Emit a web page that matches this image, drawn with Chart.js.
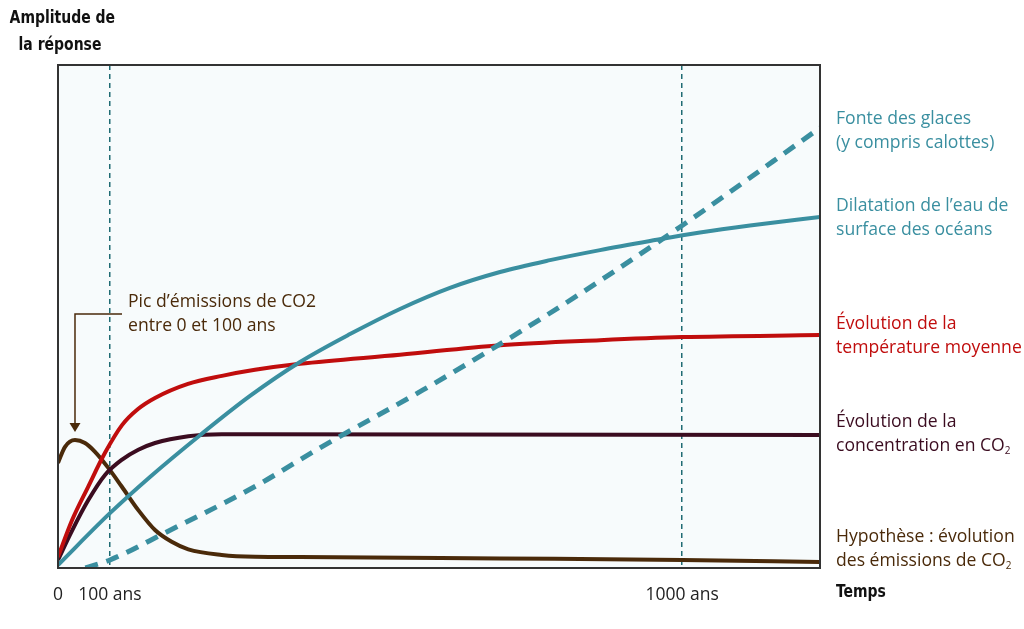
<!DOCTYPE html>
<html lang="fr">
<head>
<meta charset="utf-8">
<title>Amplitude de la réponse</title>
<script src="https://cdn.jsdelivr.net/npm/chart.js@4/dist/chart.umd.min.js"></script>
<style>
  html, body { margin: 0; padding: 0; background: #fff; }
  #wrap { position: relative; width: 1024px; height: 629px; overflow: hidden; }
  #chart { position: absolute; left: 0; top: 0; }
  .lbl { position: absolute; font-family: "Open Sans", "Noto Sans", sans-serif; font-size: 17.6px; line-height: 23.5px; white-space: nowrap; }
  .lbl sub { font-size: 10px; vertical-align: -3px; line-height: 0; }
  .bold { position: absolute; font-family: "DejaVu Sans", sans-serif; font-stretch: condensed; font-weight: bold; font-size: 18.5px; line-height: 27px; color: #111; white-space: nowrap; transform: scaleX(0.84); }
</style>
</head>
<body>
<div id="wrap">
  <canvas id="chart" width="1024" height="629"></canvas>
  <div class="bold" style="left:0; width:120px; top:3px; text-align:center; transform-origin:60px 0;">Amplitude de<br>la réponse</div>
  <div class="bold" style="left:836px; top:577px; transform-origin:0 0;">Temps</div>
  <div class="lbl" style="left:836px; top:106px; color:#3a8fa0;">Fonte des glaces<br>(y compris calottes)</div>
  <div class="lbl" style="left:836px; top:193px; color:#3a8fa0;">Dilatation de l’eau de<br>surface des océans</div>
  <div class="lbl" style="left:836px; top:311px; color:#c00d0d;">Évolution de la<br>température moyenne</div>
  <div class="lbl" style="left:836px; top:409px; color:#3b0c20;">Évolution de la<br>concentration en CO<sub>2</sub></div>
  <div class="lbl" style="left:836px; top:524px; color:#4a2a0a;">Hypothèse : évolution<br>des émissions de CO<sub>2</sub></div>
  <div class="lbl" style="left:128px; top:289px; color:#4a2a0a;">Pic d’émissions de CO2<br>entre 0 et 100 ans</div>
</div>
<script>
// Time axis is schematic (not proportional): 0..100 = width of the plot
const tickValues = [0, 6.8, 81.9];
const tickLabels = ["0", "100 ans", "1000 ans"];

// Hypothèse : émissions de CO2
const emisX = [0, 0.92, 2.23, 3.54, 4.86, 6.60, 8.36, 10.54, 12.73, 14.92, 17.10, 21.48, 25.85, 31.76, 58.0, 81.89, 100];
const emisY = [20.9, 24.1, 25.45, 24.85, 23.1, 19.9, 16.2, 11.5, 7.55, 5.2, 3.7, 2.6, 2.25, 2.2, 1.9, 1.6, 1.2];

// Concentration en CO2
const co2X = [0, 1.80, 3.98, 6.17, 8.36, 10.54, 12.73, 17.10, 21.48, 25.85, 100];
const co2Y = [1.6, 7.3, 13.5, 18.5, 21.5, 23.5, 24.85, 26.2, 26.6, 26.6, 26.45];

// Température moyenne
const tempX = [0, 1.84, 3.94, 6.17, 8.40, 10.50, 12.73, 17.06, 21.52, 25.85, 31.76, 44.88, 58.01, 71.13, 81.89, 100];
const tempY = [2.2, 9.5, 16.1, 22.9, 28.4, 31.6, 33.8, 36.6, 38.2, 39.4, 40.6, 42.4, 44.3, 45.3, 45.9, 46.3];

// Dilatation de l'eau de surface des océans
const dilX = [0, 6.82, 12.07, 18.64, 25.20, 31.76, 38.32, 44.88, 51.44, 58.01, 64.57, 71.13, 77.69, 84.25, 90.81, 100];
const dilY = [0.6, 10.9, 18.1, 26.4, 34.2, 40.95, 46.5, 51.5, 55.7, 58.85, 61.2, 63.2, 65.0, 66.7, 68.1, 69.8];

// Fonte des glaces (y compris calottes)
const iceX = [3.6, 6.82, 14.04, 25.85, 34.38, 47.90, 56.69, 64.17, 71.13, 81.63, 100];
const iceY = [0, 1.6, 7.0, 16.2, 23.9, 35.4, 43.3, 50.3, 57.1, 67.8, 87.5];

const toPoints = (xs, ys) => xs.map((x, i) => ({x, y: ys[i]}));

const line = (label, xs, ys, color, extra = {}) => ({
  label, data: toPoints(xs, ys), borderColor: color, borderWidth: 4,
  pointRadius: 0, fill: false, cubicInterpolationMode: "monotone", ...extra,
});

// Plot background, frame and the "Pic d'émissions" leader arrow
const framePlugin = {
  id: "frame",
  beforeDraw(chart) {
    const {ctx, chartArea: a} = chart;
    ctx.save();
    ctx.fillStyle = "#f7fbfc";
    ctx.fillRect(a.left, a.top, a.right - a.left, a.bottom - a.top);
    ctx.restore();
  },
  afterDatasetsDraw(chart) {
    const {ctx, chartArea: a, scales} = chart;
    ctx.save();
    ctx.strokeStyle = "#333";
    ctx.lineWidth = 2;
    ctx.strokeRect(a.left, a.top, a.right - a.left, a.bottom - a.top);

    const peak = emisY.indexOf(Math.max(...emisY));
    const px = scales.x.getPixelForValue(emisX[peak]);
    const tip = scales.y.getPixelForValue(emisY[peak]) - 8;
    const leaderY = 314;
    ctx.strokeStyle = "#4a2a0a";
    ctx.fillStyle = "#4a2a0a";
    ctx.lineWidth = 1.5;
    ctx.beginPath();
    ctx.moveTo(122, leaderY);
    ctx.lineTo(px, leaderY);
    ctx.lineTo(px, tip - 8);
    ctx.stroke();
    ctx.beginPath();
    ctx.moveTo(px - 5.5, tip - 9);
    ctx.lineTo(px + 5.5, tip - 9);
    ctx.lineTo(px, tip);
    ctx.closePath();
    ctx.fill();
    ctx.restore();
  },
};

new Chart(document.getElementById("chart"), {
  type: "line",
  data: {
    datasets: [
      line("Fonte des glaces", iceX, iceY, "#3a8fa0", {borderWidth: 5, borderDash: [13, 9], borderCapStyle: "butt"}),
      line("Dilatation", dilX, dilY, "#3a8fa0"),
      line("Température", tempX, tempY, "#c00d0d"),
      line("Concentration CO2", co2X, co2Y, "#3b0c20"),
      line("Émissions CO2", emisX, emisY, "#4a2a0a"),
    ],
  },
  options: {
    animation: false, responsive: false,
    layout: {padding: {left: 58, right: 204, top: 65, bottom: 0}},
    plugins: {legend: {display: false}, tooltip: {enabled: false}},
    scales: {
      x: {
        type: "linear", min: 0, max: 100,
        afterBuildTicks: (s) => { s.ticks = tickValues.map(v => ({value: v})); },
        afterFit: (s) => { s.height = 61; },
        ticks: {
          autoSkip: false, maxRotation: 0, padding: 17, color: "#222",
          font: {family: "'Open Sans', 'Noto Sans', sans-serif", size: 17.5},
          callback: (v) => tickLabels[tickValues.indexOf(v)],
        },
        grid: {
          drawTicks: false, lineWidth: 1.5,
          color: (c) => (c.tick && c.tick.value === 0 ? "rgba(0,0,0,0)" : "#1f6b73"),
        },
        border: {display: false, dash: [5, 4]},
      },
      y: {display: false, min: 0, max: 100},
    },
  },
  plugins: [framePlugin],
});
</script>
</body>
</html>
